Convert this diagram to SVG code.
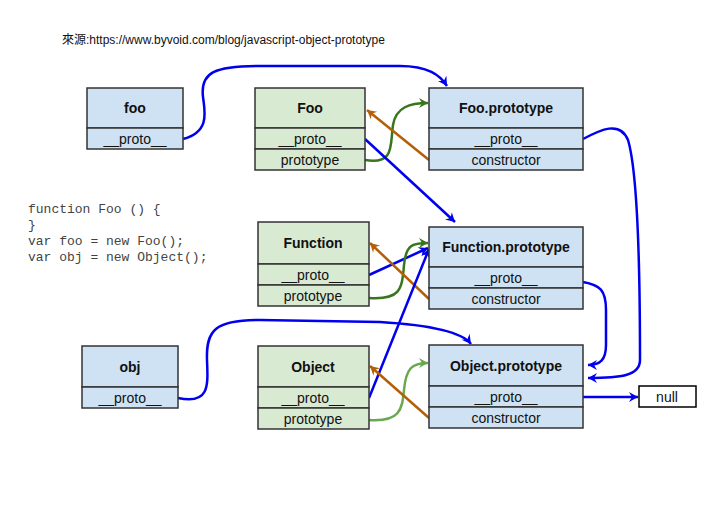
<svg xmlns="http://www.w3.org/2000/svg" width="705" height="528" viewBox="0 0 705 528">
<style>
.b{fill:#cfe2f3;stroke:#333;stroke-width:1.5}
.g{fill:#d9ead3;stroke:#333;stroke-width:1.5}
.w{fill:#fff;stroke:#000;stroke-width:1.5}
text{font-family:"Liberation Sans",Arial,sans-serif;font-size:14px;fill:#111;text-anchor:middle}
.t{font-weight:bold}
.c{font-family:"Liberation Mono",monospace;font-size:13px;fill:#444;text-anchor:start}
.l{fill:none;stroke-width:2.5}
.bl{stroke:#0000ee;marker-end:url(#ab)}
.gr{stroke:#38761d;marker-end:url(#ag)}
.lg{stroke:#6aa84f;marker-end:url(#alg)}
.or{stroke:#b45f06;marker-end:url(#ao)}
</style>
<defs>
<marker id="ab" markerWidth="12" markerHeight="12" refX="10" refY="6" orient="auto" markerUnits="userSpaceOnUse"><path d="M1,1 L10,6 L1,11 L4,6 Z" fill="#0000ee"/></marker>
<marker id="ag" markerWidth="12" markerHeight="12" refX="10" refY="6" orient="auto" markerUnits="userSpaceOnUse"><path d="M1,1 L10,6 L1,11 L4,6 Z" fill="#38761d"/></marker>
<marker id="alg" markerWidth="12" markerHeight="12" refX="10" refY="6" orient="auto" markerUnits="userSpaceOnUse"><path d="M1,1 L10,6 L1,11 L4,6 Z" fill="#6aa84f"/></marker>
<marker id="ao" markerWidth="12" markerHeight="12" refX="10" refY="6" orient="auto" markerUnits="userSpaceOnUse"><path d="M1,1 L10,6 L1,11 L4,6 Z" fill="#b45f06"/></marker>
</defs>
<rect width="705" height="528" fill="#fff"/>
<text x="62" y="44" style="font-size:12px;text-anchor:start;font-family:'Liberation Sans','Noto Sans CJK TC',sans-serif">來源:https://www.byvoid.com/blog/javascript-object-prototype</text>
<text class="c" x="28" y="213">function Foo () {</text>
<text class="c" x="28" y="229">}</text>
<text class="c" x="28" y="245">var foo = new Foo();</text>
<text class="c" x="28" y="261">var obj = new Object();</text>

<g id="connectors">
<path class="l bl" d="M183,139 C210,132 205,112 203,97 C200,72 215,66 260,66 L400,66 C428,66 440,75 447,86"/>
<path class="l gr" d="M365,160 C395,165 390,145 393,125 C396,107 410,103 428,103"/>
<path class="l or" d="M429,160 L367,110"/>
<path class="l bl" d="M365,139 L455,222"/>
<path class="l bl" d="M583,139 C600,130 620,120 628,140 C640,180 640,330 640,360 C640,376 620,378 588,378"/>
<path class="l bl" d="M369,275 L428,248"/>
<path class="l gr" d="M369,298 C400,300 402,290 404,265 C406,245 412,243 428,243"/>
<path class="l or" d="M429,299 L370,243"/>
<path class="l bl" d="M583,282 C600,285 606,290 606,310 L606,345 C606,360 600,365 588,365"/>
<path class="l bl" d="M178,398 C210,405 208,385 207,360 C206,330 215,320 260,320 L380,322 C430,325 462,332 471,344"/>
<path class="l bl" d="M369,398 L429,249"/>
<path class="l lg" d="M369,420 C400,422 402,410 404,390 C406,368 412,363 428,363"/>
<path class="l or" d="M429,418 L370,366"/>
<path class="l bl" d="M583,397 L638,397"/>
</g>

<g id="foo"><rect class="b" x="87" y="88" width="96" height="40"/><rect class="b" x="87" y="128" width="96" height="21"/><text class="t" x="135" y="113">foo</text><text x="135" y="144">__proto__</text></g>
<g id="Foo"><rect class="g" x="255" y="88" width="110" height="40"/><rect class="g" x="255" y="128" width="110" height="21"/><rect class="g" x="255" y="149" width="110" height="21"/><text class="t" x="310" y="113">Foo</text><text x="310" y="144">__proto__</text><text x="310" y="165">prototype</text></g>
<g id="FooPrototype"><rect class="b" x="429" y="88" width="154" height="40"/><rect class="b" x="429" y="128" width="154" height="21"/><rect class="b" x="429" y="149" width="154" height="21"/><text class="t" x="506" y="113">Foo.prototype</text><text x="506" y="144">__proto__</text><text x="506" y="165">constructor</text></g>
<g id="Function"><rect class="g" x="258" y="222" width="111" height="42"/><rect class="g" x="258" y="264" width="111" height="21"/><rect class="g" x="258" y="285" width="111" height="21"/><text class="t" x="313" y="248">Function</text><text x="313" y="280">__proto__</text><text x="313" y="301">prototype</text></g>
<g id="FunctionPrototype"><rect class="b" x="429" y="227" width="154" height="40"/><rect class="b" x="429" y="267" width="154" height="21"/><rect class="b" x="429" y="288" width="154" height="21"/><text class="t" x="506" y="252">Function.prototype</text><text x="506" y="283">__proto__</text><text x="506" y="304">constructor</text></g>
<g id="obj"><rect class="b" x="82" y="346" width="96" height="41"/><rect class="b" x="82" y="387" width="96" height="21"/><text class="t" x="130" y="372">obj</text><text x="130" y="403">__proto__</text></g>
<g id="Object"><rect class="g" x="258" y="346" width="111" height="41"/><rect class="g" x="258" y="387" width="111" height="21"/><rect class="g" x="258" y="408" width="111" height="21"/><text class="t" x="313" y="372">Object</text><text x="313" y="403">__proto__</text><text x="313" y="424">prototype</text></g>
<g id="ObjectPrototype"><rect class="b" x="429" y="345" width="154" height="41"/><rect class="b" x="429" y="386" width="154" height="21"/><rect class="b" x="429" y="407" width="154" height="21"/><text class="t" x="506" y="371">Object.prototype</text><text x="506" y="402">__proto__</text><text x="506" y="423">constructor</text></g>
<g id="null"><rect class="w" x="639" y="386" width="57" height="21"/><text x="667" y="402">null</text></g>
</svg>
